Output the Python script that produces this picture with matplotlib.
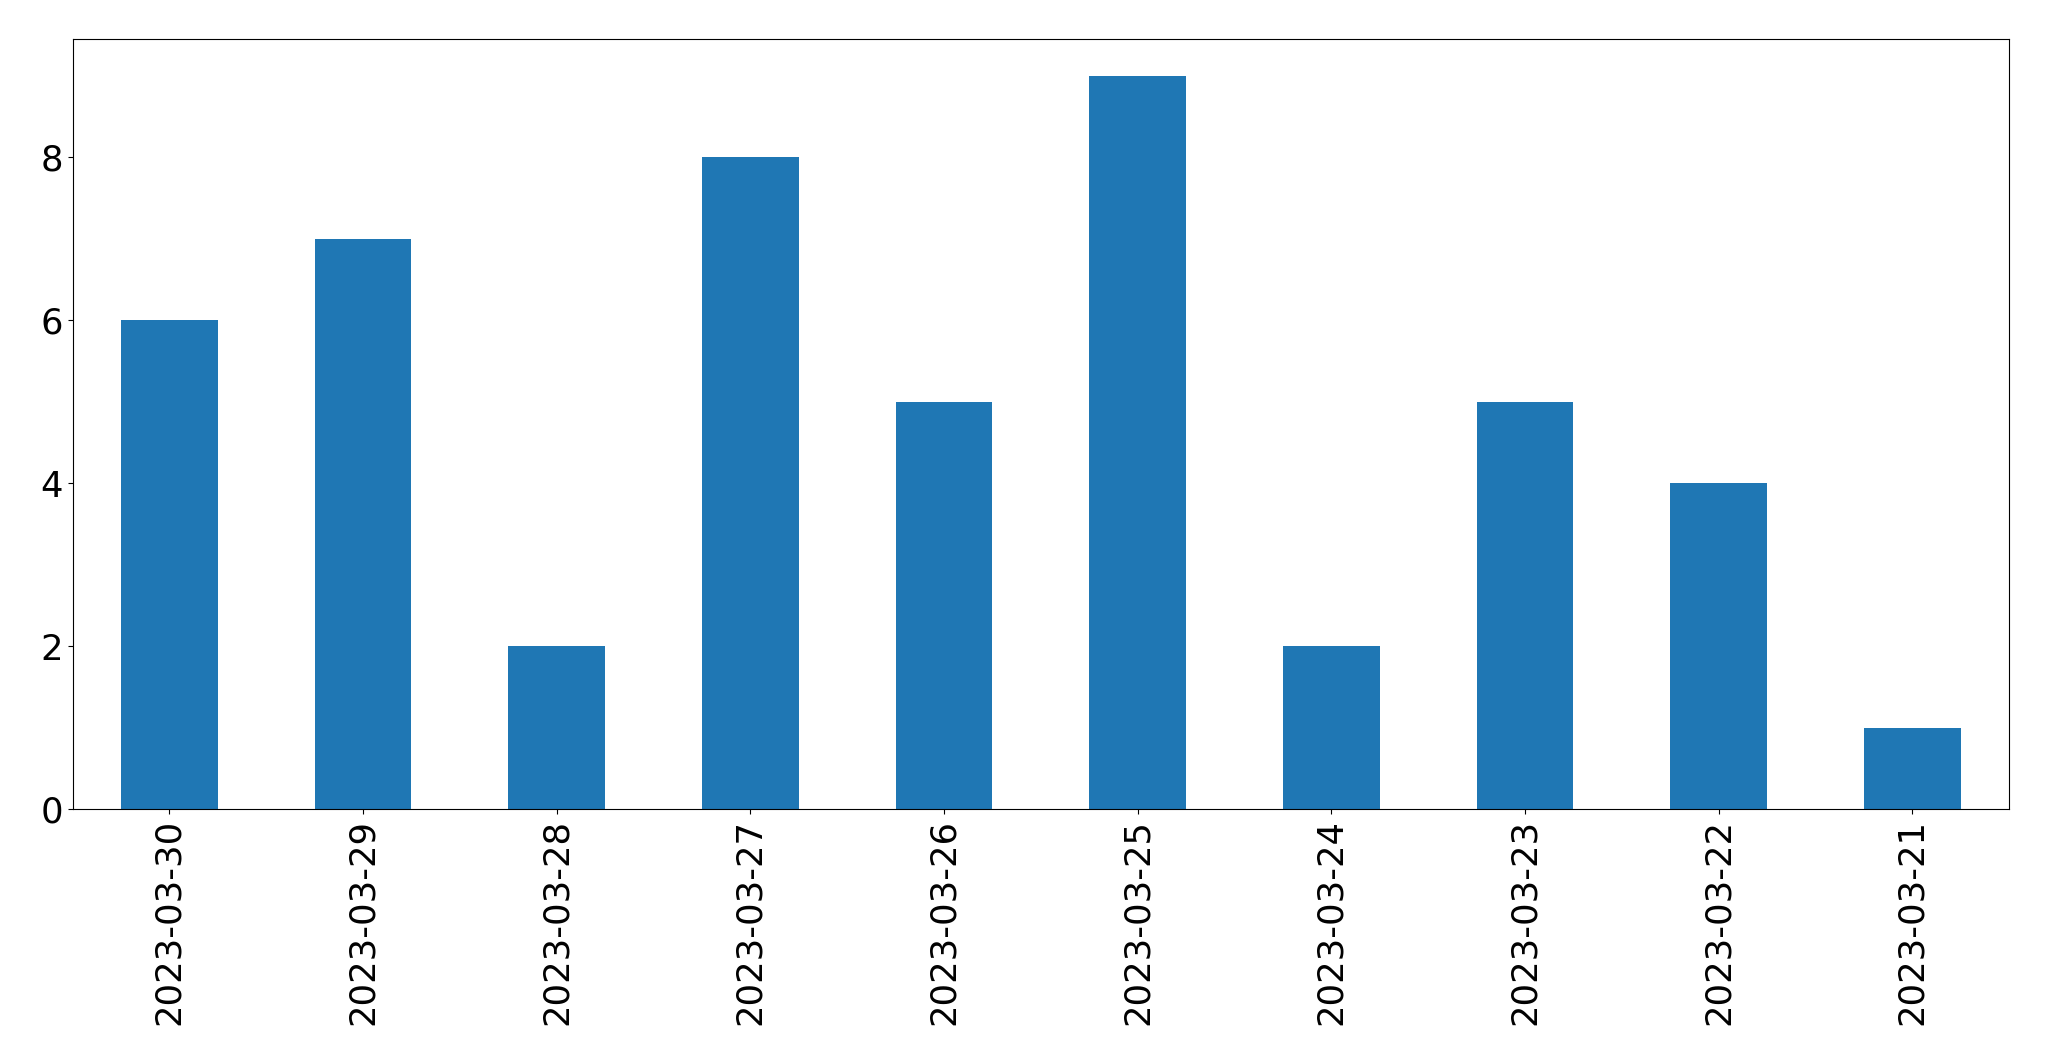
import numpy as np
import matplotlib
matplotlib.use('Agg')
import matplotlib.pyplot as plt

dates = ['2023-03-30', '2023-03-29', '2023-03-28', '2023-03-27', '2023-03-26',
         '2023-03-25', '2023-03-24', '2023-03-23', '2023-03-22', '2023-03-21']
counts = [6, 7, 2, 8, 5, 9, 2, 5, 4, 1]

fig = plt.figure(figsize=(20.49, 10.61), dpi=100)
ax = fig.add_subplot(111)
fig.subplots_adjust(left=0.0354, right=0.9805, top=0.9632, bottom=0.2375)

x = np.arange(len(dates))
ax.bar(x, counts, width=0.5, color='#1f77b4')
ax.set_xlim(-0.5, len(dates) - 0.5)
ax.set_xticks(x)
ax.set_xticklabels(dates, rotation=90)
ax.tick_params(axis='both', labelsize=25.5)

fig.savefig('out.png', dpi=100)
